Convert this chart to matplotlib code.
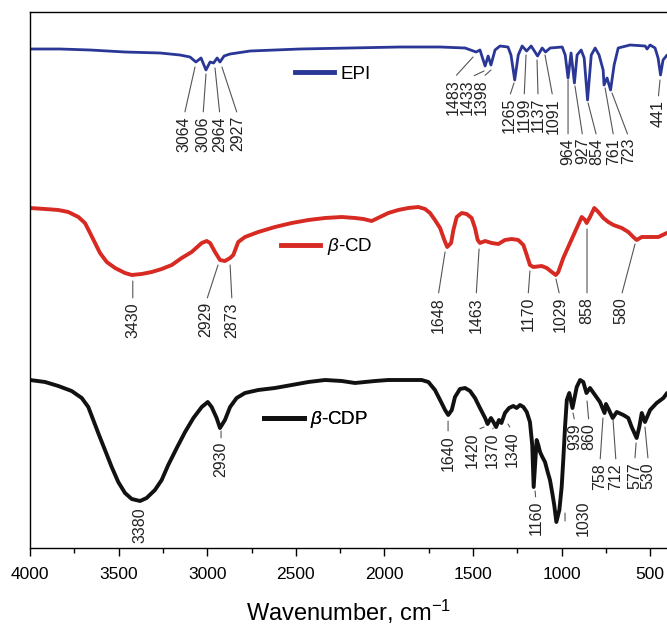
import matplotlib
matplotlib.use("Agg")
import matplotlib.pyplot as plt
from matplotlib.lines import Line2D

plt.rcParams['font.family'] = ['Liberation Sans', 'DejaVu Sans']
plt.rcParams['mathtext.fontset'] = 'custom'
plt.rcParams['mathtext.it'] = 'Liberation Sans:italic'
plt.rcParams['mathtext.rm'] = 'Liberation Sans'

# ---------------- data (wavenumber, cm-1 ; transmittance, a.u.) ----------------
epi_wn = [4000, 3831, 3661, 3464, 3266, 3154, 3097, 3064, 3035, 3007, 2984, 2964, 2944,
          2928, 2905, 2871, 2758, 2476, 2194, 1912, 1686, 1545, 1483, 1461, 1432, 1415,
          1399, 1376, 1348, 1303, 1286, 1265, 1245, 1223, 1198, 1172, 1136, 1110, 1091,
          1065, 997, 980, 964, 947, 928, 913, 890, 873, 854, 833, 811, 789, 766, 761,
          744, 724, 704, 681, 614, 529, 518, 501, 473, 456, 442, 428, 405]
epi_t = [499, 499, 498, 496, 495, 493, 491, 486, 490, 478, 486, 485, 490,
         486, 492, 494, 497, 499, 500, 501, 501, 500, 496, 498, 482, 492,
         483, 498, 502, 501, 493, 468, 493, 502, 497, 502, 492, 500, 496,
         500, 501, 493, 470, 495, 465, 493, 498, 490, 448, 493, 500, 493, 478, 463,
         470, 458, 483, 500, 503, 502, 499, 503, 500, 490, 473, 488, 493]

cd_wn = [4000, 3915, 3840, 3784, 3727, 3690, 3661, 3633, 3605, 3567, 3520, 3464, 3426,
         3370, 3313, 3257, 3200, 3144, 3088, 3031, 3003, 2984, 2956, 2928, 2900, 2871,
         2853, 2825, 2787, 2712, 2618, 2523, 2429, 2335, 2241, 2166, 2119, 2072, 2025,
         1978, 1922, 1865, 1809, 1771, 1743, 1715, 1686, 1662, 1646, 1624, 1611, 1592,
         1564, 1536, 1508, 1489, 1474, 1461, 1432, 1395, 1357, 1320, 1282, 1245, 1216,
         1197, 1179, 1160, 1113, 1084, 1056, 1033, 1019, 991, 953, 915, 887, 868, 859,
         840, 816, 793, 765, 737, 708, 661, 624, 596, 577, 548, 511, 454, 407]
cd_t = [340, 339, 338, 336, 331, 325, 315, 305, 295, 286, 280, 275, 273,
        274, 276, 279, 283, 290, 296, 305, 307, 305, 296, 288, 287, 290,
        293, 306, 311, 316, 321, 325, 328, 330, 331, 330, 329, 327, 331,
        335, 338, 340, 341, 339, 335, 328, 320, 308, 301, 305, 318, 331,
        335, 334, 330, 320, 308, 305, 307, 305, 304, 308, 309, 308, 303,
        293, 283, 281, 282, 280, 276, 273, 276, 290, 305, 320, 331, 328, 325,
        331, 340, 336, 330, 326, 323, 320, 316, 311, 308, 311, 311, 311, 315]

cdp_wn = [4000, 3915, 3840, 3765, 3708, 3671, 3643, 3615, 3577, 3539, 3502, 3464, 3426,
          3379, 3342, 3295, 3257, 3220, 3172, 3125, 3078, 3031, 2997, 2975, 2947, 2928,
          2900, 2871, 2834, 2787, 2712, 2618, 2523, 2429, 2335, 2241, 2166, 2110, 2053,
          1978, 1884, 1790, 1752, 1715, 1686, 1658, 1640, 1620, 1602, 1574, 1545, 1517,
          1489, 1461, 1432, 1418, 1399, 1385, 1370, 1354, 1340, 1320, 1297, 1273, 1254,
          1235, 1216, 1197, 1179, 1166, 1158, 1141, 1132, 1122, 1109, 1094, 1079, 1066,
          1053, 1042, 1030, 1013, 1000, 991, 981, 971, 957, 939, 915, 896, 878, 860,
          840, 812, 784, 758, 750, 733, 712, 689, 652, 624, 605, 577, 562, 548, 530,
          501, 464, 426, 405]
cdp_t = [168, 166, 162, 157, 150, 141, 128, 115, 98, 81, 66, 55, 49,
         47, 50, 58, 68, 83, 100, 116, 130, 141, 146, 141, 130, 120,
         128, 141, 150, 155, 158, 160, 163, 166, 168, 167, 165, 166, 167,
         168, 168, 168, 166, 158, 148, 138, 133, 138, 151, 159, 160, 157,
         150, 140, 130, 124, 130, 126, 121, 128, 125, 135, 140, 142, 140,
         143, 141, 136, 126, 103, 61, 108, 103, 96, 91, 86, 76, 68,
         55, 43, 26, 38, 61, 88, 121, 148, 155, 140, 161, 168, 166, 155,
         160, 153, 146, 135, 144, 138, 130, 136, 133, 130, 121, 110, 121, 135, 126,
         138, 145, 150, 155]

series_names = ['EPI', r'$\it{\beta}$-CD', r'$\it{\beta}$-CDP']
series_colors = ['#2a3796', '#d62a22', '#111111']

# peak labels: (text, line start wn, line start T, text wn, text top T)
epi_peaks = [('3064', 3069, 481, 3131, 432), ('3006', 3007, 474, 3024, 432),
             ('2964', 2956, 480, 2928, 432), ('2927', 2917, 481, 2826, 432),
             ('1483', 1500, 491, 1613, 469), ('1433', 1438, 477, 1534, 469),
             ('1398', 1399, 478, 1455, 469), ('1265', 1269, 465, 1297, 450),
             ('1199', 1201, 493, 1212, 450), ('1137', 1139, 488, 1133, 450),
             ('1091', 1094, 493, 1049, 450), ('964', 964, 468, 964, 410),
             ('927', 925, 462, 880, 410), ('854', 851, 445, 800, 410),
             ('761', 755, 460, 705, 410), ('723', 716, 455, 620, 410),
             ('441', 445, 468, 456, 448)]
cd_peaks = [('3430', 3420, 267, 3420, 246), ('2929', 2939, 283, 3007, 246),
            ('2873', 2871, 283, 2860, 246), ('1648', 1658, 296, 1698, 251),
            ('1463', 1466, 299, 1483, 251), ('1170', 1179, 277, 1190, 251),
            ('1029', 1032, 269, 1009, 251), ('858', 857, 319, 857, 251),
            ('580', 586, 304, 665, 251)]
cdp_peaks = [('3380', None, None, 3379, 41), ('2930', 2922, 117, 2922, 106),
             ('1640', 1641, 127, 1641, 113), ('1420', 1438, 121, 1506, 116),
             ('1370', 1387, 120, 1393, 115), ('1340', 1303, 124, 1280, 117),
             ('1160', 1150, 57, 1145, 47), ('1030', None, None, 879, 48),
             ('939', 936, 135, 924, 125), ('860', 857, 147, 846, 125),
             ('758', 767, 130, 784, 85), ('712', 710, 128, 693, 85),
             ('577', 580, 105, 588, 86), ('530', 530, 121, 511, 86)]

xticks = [4000, 3500, 3000, 2500, 2000, 1500, 1000, 500]

# ---------------- figure ----------------
fig = plt.figure(figsize=(6.67, 6.29), dpi=100)
ax = fig.add_axes([30 / 667, 81 / 629, 638 / 667, 536 / 629])

lws = [2.0, 2.8, 2.8]
for wn, t, c, lw in zip([epi_wn, cd_wn, cdp_wn], [epi_t, cd_t, cdp_t], series_colors, lws):
    ax.plot(wn, t, color=c, lw=lw, solid_joinstyle='round', solid_capstyle='round')

ax.set_xlim(4000, 400)
ax.set_ylim(0, 536)
ax.set_xticks(xticks)
ax.set_xticks(range(3750, 399, -500), minor=True)
ax.set_yticks([])
ax.tick_params(axis='x', which='major', direction='out', length=6, width=1,
               labelsize=12.5, pad=8)
ax.tick_params(axis='x', which='minor', direction='out', length=3.5, width=1)
for s in ['left', 'bottom', 'top', 'right']:
    ax.spines[s].set_linewidth(1.0)
ax.set_xlabel('Wavenumber, cm$^{-1}$', fontsize=17, labelpad=11)

# legends (one per curve)
leg_pos = [(0.415, 0.884), (0.393, 0.562), (0.367, 0.239)]
for name, c, pos in zip(series_names, series_colors, leg_pos):
    h = Line2D([], [], color=c, lw=3.5)
    lg = ax.legend([h], [name], loc='center left', bbox_to_anchor=pos, frameon=False,
                   fontsize=13.5, handlelength=2.1, handletextpad=0.35,
                   borderpad=0, borderaxespad=0)
    ax.add_artist(lg)

# peak annotations
for peaks in [epi_peaks, cd_peaks, cdp_peaks]:
    for txt, lx, ly, tx, ty in peaks:
        if lx is None:
            ax.text(tx, ty, txt, rotation=90, ha='center', va='top', fontsize=11.5,
                    color='#222222')
        else:
            ax.annotate(txt, xy=(lx, ly), xytext=(tx, ty), rotation=90, ha='center',
                        va='top', fontsize=11.5, color='#222222',
                        arrowprops=dict(arrowstyle='-', color='#555555', lw=0.8,
                                        shrinkA=1, shrinkB=0,
                                        relpos=(0.5, 1.0)))
# short tick beside the 1030 label
ax.annotate('', xy=(981, 27), xytext=(981, 35),
            arrowprops=dict(arrowstyle='-', color='#555555', lw=0.8, shrinkA=0, shrinkB=0))

fig.savefig('out.png', dpi=100)
